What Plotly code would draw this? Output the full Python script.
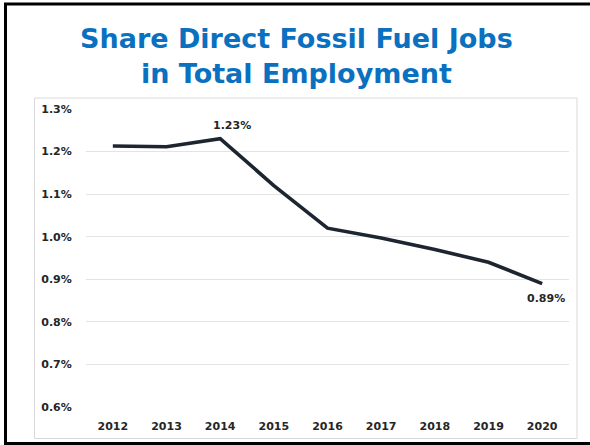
import plotly.graph_objects as go

# Share of direct fossil fuel jobs in total employment (%)
years = ["2012", "2013", "2014", "2015", "2016", "2017", "2018", "2019", "2020"]
share_pct = [1.213, 1.211, 1.23, 1.12, 1.02, 0.997, 0.97, 0.94, 0.89]
y_ticks = [0.6, 0.7, 0.8, 0.9, 1.0, 1.1, 1.2, 1.3]
title_lines = ["Share Direct Fossil Fuel Jobs", "in Total Employment"]

W, H = 590, 445
M_L, M_R, M_T, M_B = 86, 21, 108, 37
PW, PH = W - M_L - M_R, H - M_T - M_B


def px_x(px):
    return (px - M_L) / PW


def px_y(py):
    return 1 - (py - M_T) / PH


def pct(v, digits):
    # percent sign written as an entity so it survives text processing
    return f"{v:.{digits}f}&#37;"


LINE_COLOR = "#1d2530"
TEXT_COLOR = "#262626"
TICK_FONT = dict(family="DejaVu Sans", size=11, color=TEXT_COLOR, weight="bold")

fig = go.Figure()
fig.add_trace(go.Scatter(
    x=years, y=share_pct, mode="lines",
    line=dict(color=LINE_COLOR, width=3.6),
    hoverinfo="skip", showlegend=False,
))

# value labels on the peak and the last year
annotations = [
    dict(xref="x", yref="y", x=2, y=share_pct[2], text=pct(share_pct[2], 2),
         showarrow=False, xshift=12, yshift=13, font=TICK_FONT),
    dict(xref="x", yref="y", x=len(years) - 1, y=share_pct[-1],
         text=pct(share_pct[-1], 2),
         showarrow=False, xshift=4, yshift=-15, font=TICK_FONT),
    dict(xref="paper", yref="paper", x=px_x(296), y=px_y(56),
         text="<br>".join(title_lines), showarrow=False,
         xanchor="center", yanchor="middle",
         font=dict(family="DejaVu Sans", size=27, color="#0a70c0", weight="bold"),
         align="center"),
]

shapes = [
    # light chart frame
    dict(type="rect", xref="paper", yref="paper", layer="below",
         x0=px_x(34.5), x1=px_x(577), y0=px_y(98), y1=px_y(438.5),
         line=dict(color="#d9d9d9", width=1)),
    # dark slide frame
    dict(type="rect", xref="paper", yref="paper",
         x0=px_x(5.5), x1=px_x(600), y0=px_y(4), y1=px_y(443.5),
         line=dict(color="#000000", width=3)),
]

fig.update_layout(
    width=W, height=H,
    margin=dict(l=M_L, r=M_R, t=M_T, b=M_B),
    paper_bgcolor="white", plot_bgcolor="white",
    annotations=annotations, shapes=shapes,
    xaxis=dict(type="category", range=[-0.5, 8.5], showgrid=False,
               showline=False, zeroline=False, ticks="outside",
               ticklen=8, tickcolor="rgba(0,0,0,0)", tickfont=TICK_FONT),
    yaxis=dict(range=[0.598, 1.302], tickvals=y_ticks,
               ticktext=[pct(v, 1) for v in y_ticks],
               showgrid=True, gridcolor="#e3e3e3",
               gridwidth=1, zeroline=False, showline=False,
               ticks="outside", ticklen=11, tickcolor="rgba(0,0,0,0)",
               tickfont=TICK_FONT),
)

fig.write_html("out.html")
